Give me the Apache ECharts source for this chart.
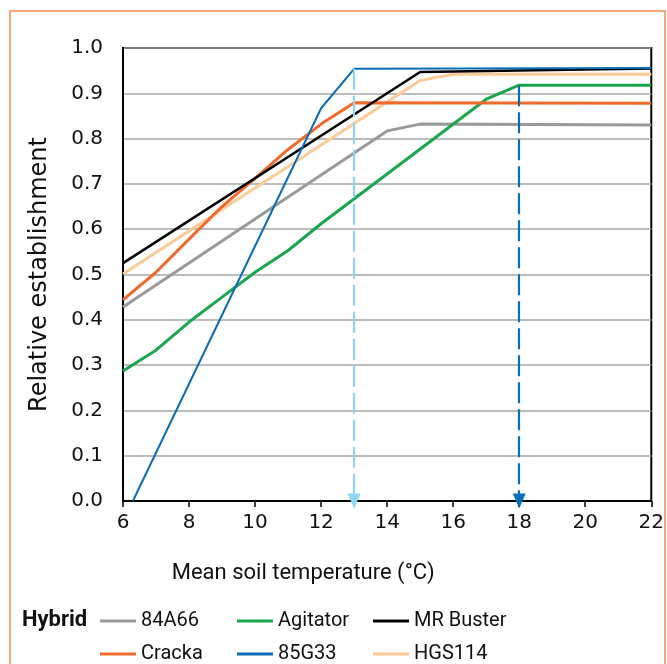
<!DOCTYPE html>
<html>
<head>
<meta charset="utf-8">
<script src="https://cdn.jsdelivr.net/npm/echarts@6/dist/echarts.min.js"></script>
<style>
  html, body { margin: 0; padding: 0; background: #fff; }
  #main { width: 667px; height: 664px; }
</style>
</head>
<body>
<div id="main"></div>
<script>
// soil temperature (x) and relative establishment (y) per hybrid
var t84A66 = [6, 14, 15, 22];
var v84A66 = [0.428, 0.817, 0.832, 0.830];
var tCracka = [6, 7, 8, 9, 10, 11, 12, 13, 22];
var vCracka = [0.444, 0.505, 0.578, 0.650, 0.712, 0.776, 0.832, 0.879, 0.878];
var tAgitator = [6, 7, 8, 9, 10, 11, 12, 17, 18, 22];
var vAgitator = [0.287, 0.333, 0.395, 0.450, 0.505, 0.553, 0.612, 0.887, 0.918, 0.918];
var t85G33 = [6.3, 12, 13, 22];
var v85G33 = [0, 0.867, 0.954, 0.956];
var tMRBuster = [6, 15, 22];
var vMRBuster = [0.525, 0.947, 0.955];
var tHGS114 = [6, 15, 16, 22];
var vHGS114 = [0.501, 0.928, 0.942, 0.942];

// optimum temperatures marked with arrows (85G33 and Agitator)
var arrowTemps = [13, 18];

// legend layout: two rows of three
var legendRows = [['84A66', 'Agitator', 'MR Buster'], ['Cracka', '85G33', 'HGS114']];

function pairs(t, v) {
    return t.map(function (x, i) { return [x, v[i]]; });
}
function valueAt(t, v, x) {
    return v[t.indexOf(x)];
}

var mychart = echarts.init(document.getElementById('main'));

var labelFont = 'DejaVu Sans';
var textFont = 'Roboto';

function lineSeries(name, t, v, color, width) {
    return {
        name: name,
        type: 'line',
        data: pairs(t, v),
        showSymbol: false,
        symbol: 'none',
        lineStyle: { color: color, width: width },
        itemStyle: { color: color }
    };
}

function arrowLine(t, v, x, color) {
    return {
        silent: true,
        symbol: ['none', 'triangle'],
        symbolSize: [13, 15],
        label: { show: false },
        lineStyle: { color: color, type: [21, 6], width: 2.2 },
        data: [[
            { coord: [x, valueAt(t, v, x)] },
            { coord: [x, 0] }
        ]]
    };
}

var s85G33 = lineSeries('85G33', t85G33, v85G33, '#0b6db6', 2);
s85G33.markLine = arrowLine(t85G33, v85G33, arrowTemps[0], '#8fd4f5');
var sAgitator = lineSeries('Agitator', tAgitator, vAgitator, '#1aa64b', 3);
sAgitator.markLine = arrowLine(tAgitator, vAgitator, arrowTemps[1], '#0b6db6');

var colLeft = [95, 232, 368];
var rowTop = [606, 639];
var legends = [];
legendRows.forEach(function (row, r) {
    row.forEach(function (name, c) {
        legends.push({
            left: colLeft[c],
            top: rowTop[r],
            itemWidth: 36,
            itemHeight: 3,
            itemGap: 0,
            icon: 'rect',
            data: [name],
            textStyle: { fontFamily: textFont, fontSize: 20, color: '#111' }
        });
    });
});

mychart.setOption({
    animation: false,
    backgroundColor: '#fff',
    grid: {
        left: 123, right: 15, top: 48, bottom: 163,
        show: true, borderColor: '#000', borderWidth: 2
    },
    graphic: [
        {
            type: 'rect',
            shape: { x: 10, y: 11, width: 655, height: 700 },
            style: { fill: 'none', stroke: '#f58b4c', lineWidth: 1.5 },
            silent: true
        },
        {
            type: 'text',
            left: 22,
            top: 609,
            style: { text: 'Hybrid', font: 'bold 22px Roboto', fill: '#111' }
        }
    ],
    legend: legends,
    xAxis: {
        type: 'value',
        min: 6, max: 22, interval: 2,
        name: 'Mean soil temperature (°C)',
        nameLocation: 'middle',
        nameGap: 61,
        nameTextStyle: {
            fontFamily: textFont, fontSize: 22, color: '#111',
            padding: [0, 168, 0, 0]
        },
        axisLine: { lineStyle: { color: '#000', width: 2 } },
        axisTick: { show: true, length: 6, lineStyle: { color: '#000', width: 1.5 } },
        axisLabel: { fontFamily: labelFont, fontSize: 20, color: '#111', margin: 12 },
        splitLine: { show: false }
    },
    yAxis: {
        type: 'value',
        min: 0, max: 1, interval: 0.1,
        name: 'Relative establishment',
        nameLocation: 'middle',
        nameGap: 71,
        nameTextStyle: { fontFamily: labelFont, fontSize: 24, color: '#111' },
        axisLine: { show: true, lineStyle: { color: '#000', width: 2 } },
        axisTick: { show: false },
        axisLabel: {
            fontFamily: labelFont, fontSize: 20, color: '#111', margin: 20,
            formatter: function (v) { return v.toFixed(1); }
        },
        splitLine: { lineStyle: { color: '#a6a6a6', width: 1.5 } }
    },
    series: [
        lineSeries('84A66', t84A66, v84A66, '#9a9a9a', 3),
        lineSeries('HGS114', tHGS114, vHGS114, '#fdca98', 3),
        sAgitator,
        lineSeries('Cracka', tCracka, vCracka, '#f26a2b', 3),
        lineSeries('MR Buster', tMRBuster, vMRBuster, '#000000', 2.5),
        s85G33
    ]
});
</script>
</body>
</html>
